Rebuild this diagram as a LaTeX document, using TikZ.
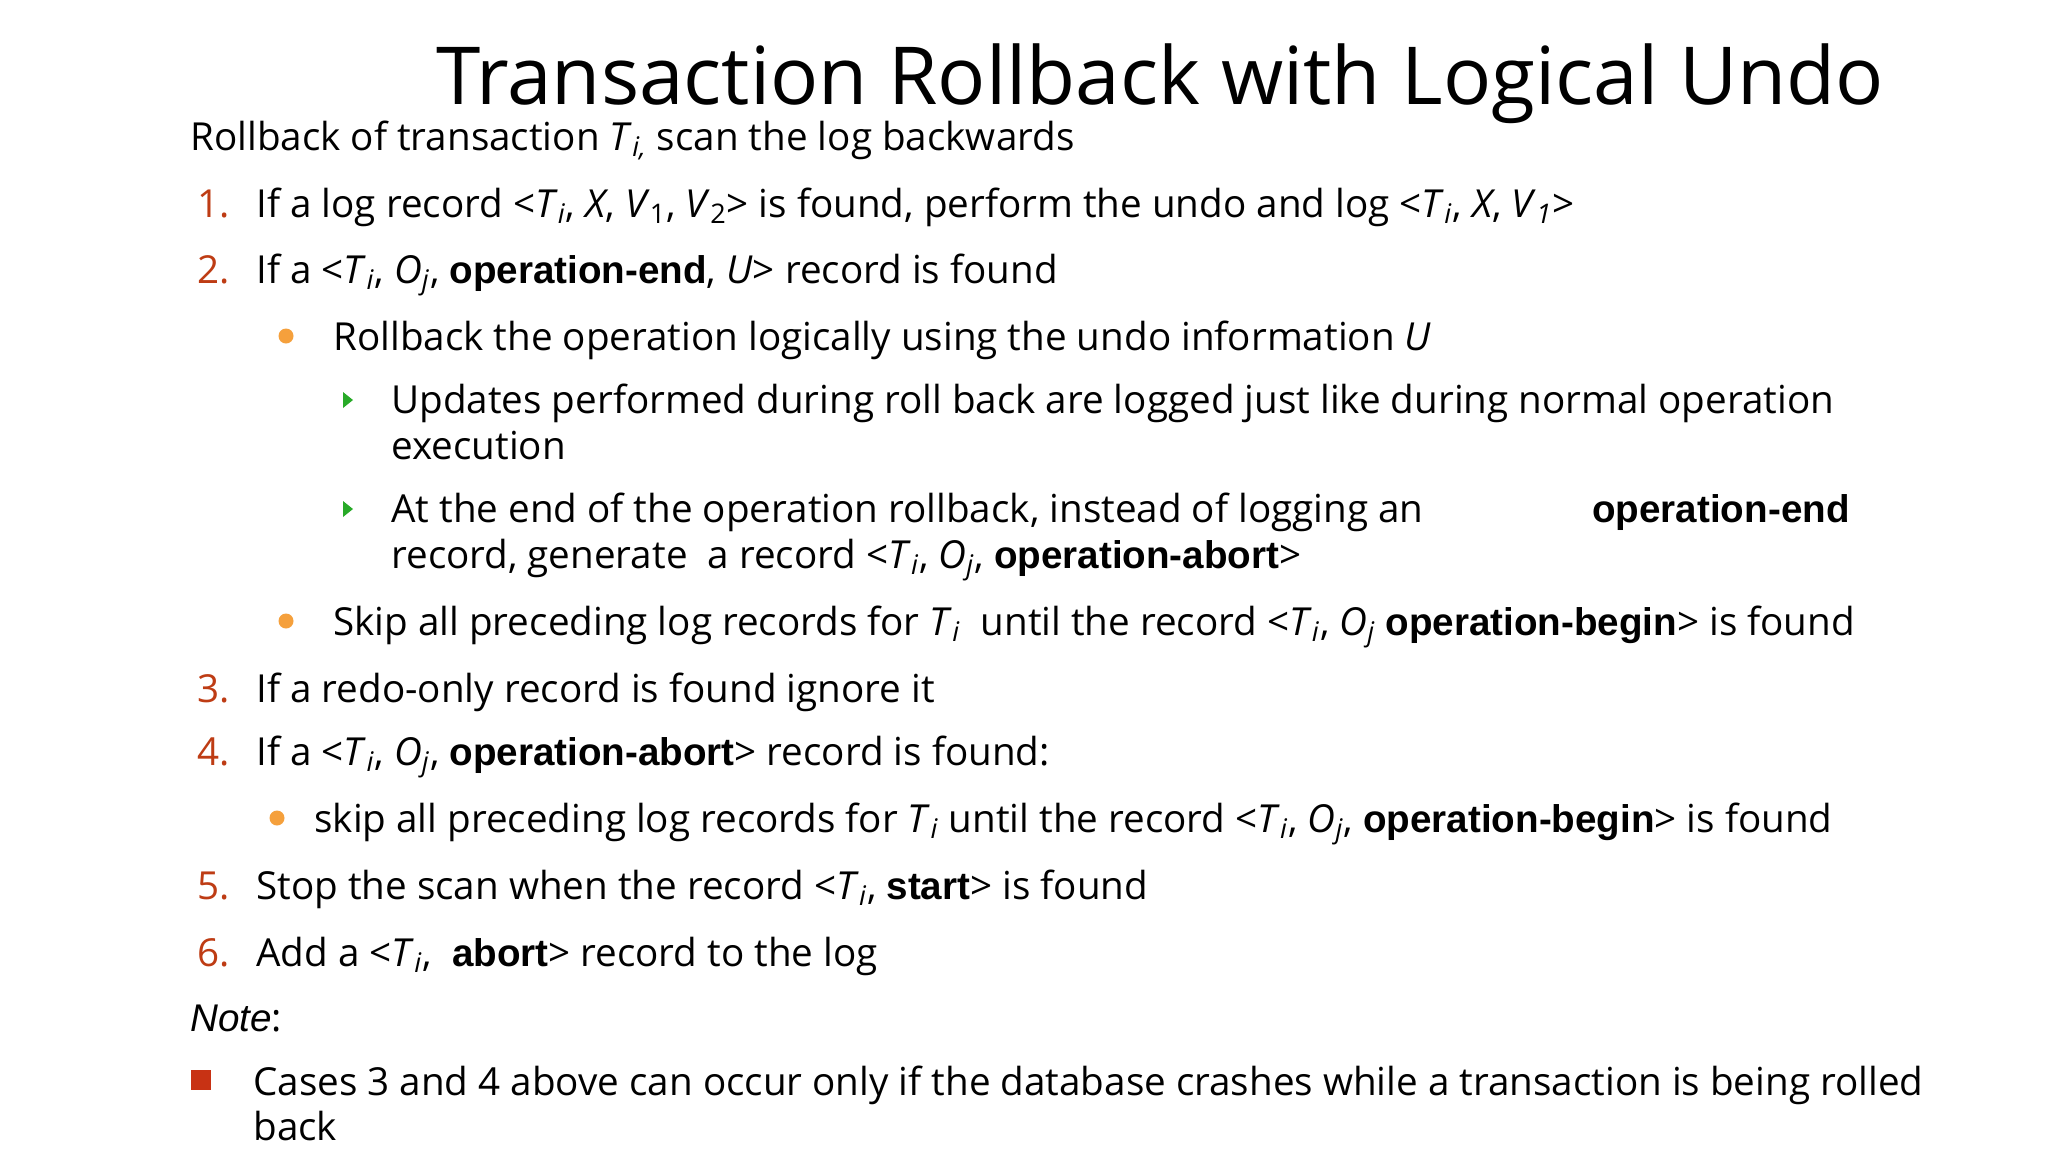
\documentclass[tikz,border=0pt]{standalone}
\usepackage{fontspec}
\setmainfont{Open Sans}
\newfontfamily\ar{Liberation Sans}
\newcommand{\sbi}[1]{\textsubscript{\textit{#1}}}
\newcommand{\B}[1]{{\ar\bfseries #1}}
\definecolor{numc}{RGB}{190,60,20}
\definecolor{orb}{RGB}{245,160,60}
\definecolor{grt}{RGB}{40,170,40}
\definecolor{sq}{RGB}{200,50,20}
\begin{document}
\begin{tikzpicture}[x=0.5pt,y=-0.5pt,
  txt/.style={anchor=base west,inner sep=0,font=\fontsize{19.3}{23}\selectfont},
  num/.style={txt,text=numc},
  dot/.style={circle,fill=orb,minimum size=7.5pt,inner sep=0},
  tri/.style={fill=grt}]
\useasboundingbox[fill=white] (0,0) rectangle (2048,1152);
\node[anchor=base,inner sep=0,font=\fontsize{40}{44}\selectfont] (title) at (1160,104) {Transaction Rollback with Logical Undo};
\node[txt] (l0) at (190,150) {Rollback of transaction \textit{T}\sbi{i,} scan the log backwards};
\node[num] (n1) at (197,217) {1.};
\node[txt] (l1) at (256,217) {If a log record <\textit{T}\sbi{i}, \textit{X}, \textit{V}\textsubscript{1}, \textit{V}\textsubscript{2}> is found, perform the undo and log <\textit{T}\sbi{i}, \textit{X}, \textit{V}\sbi{1}>};
\node[num] (n2) at (197,283) {2.};
\node[txt] (l2) at (256,283) {If a <\textit{T}\sbi{i}, \textit{O}\sbi{j}, \B{operation-end}, \textit{U}> record is found};
\node[dot] (b1) at (286,336) {};
\node[txt] (l3) at (333,350) {Rollback the operation logically using the undo information \textit{U}};
\fill[tri] (343,392) -- (353,400) -- (343,408) -- cycle;
\node[txt] (l4) at (391,413) {Updates performed during roll back are logged just like during normal operation};
\node[txt] (l4b) at (391,459) {execution};
\fill[tri] (343,501) -- (353,509) -- (343,517) -- cycle;
\node[txt] (l5) at (391,522) {At the end of the operation rollback, instead of logging an};
\node[anchor=base east,inner sep=0,font=\fontsize{19.3}{23}\selectfont] (l5r) at (1850,522) {\B{operation-end}};
\node[txt] (l5b) at (391,568) {record, generate\ \ a record <\textit{T}\sbi{i}, \textit{O}\sbi{j}, \B{operation-abort}>};
\node[dot] (b2) at (286,621) {};
\node[txt] (l6) at (333,635) {Skip all preceding log records for \textit{T}\sbi{i}\ \ until the record <\textit{T}\sbi{i}, \textit{O}\sbi{j} \B{operation-begin}> is found};
\node[num] (n3) at (197,702) {3.};
\node[txt] (l7) at (256,702) {If a redo-only record is found ignore it};
\node[num] (n4) at (197,765) {4.};
\node[txt] (l8) at (256,765) {If a <\textit{T}\sbi{i}, \textit{O}\sbi{j}, \B{operation-abort}> record is found:};
\node[dot] (b3) at (277,818) {};
\node[txt] (l9) at (314,832) {skip all preceding log records for \textit{T}\sbi{i} until the record <\textit{T}\sbi{i}, \textit{O}\sbi{j}, \B{operation-begin}> is found};
\node[num] (n5) at (197,899) {5.};
\node[txt] (l10) at (256,899) {Stop the scan when the record <\textit{T}\sbi{i}, \B{start}> is found};
\node[num] (n6) at (197,966) {6.};
\node[txt] (l11) at (256,966) {Add a <\textit{T}\sbi{i},\ \ \B{abort}> record to the log};
\node[txt] (note) at (190,1031) {{\ar\itshape Note}:};
\node[fill=sq,minimum size=10pt,inner sep=0] (sqr) at (201,1080) {};
\node[txt] (l12) at (253,1095) {Cases 3 and 4 above can occur only if the database crashes while a transaction is being rolled};
\node[txt] (l12b) at (253,1140) {back};
\end{tikzpicture}
\end{document}
